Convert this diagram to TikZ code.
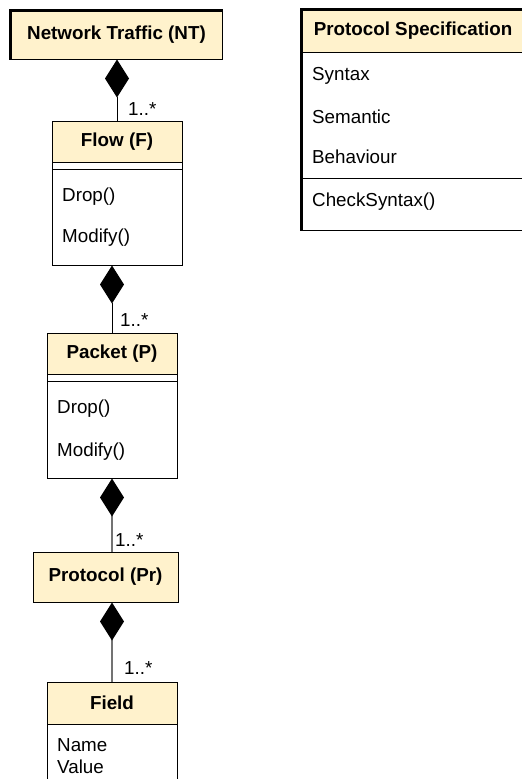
\documentclass[tikz,border=0pt]{standalone}
\usepackage{fontspec}
\setmainfont{Liberation Sans}
\usetikzlibrary{arrows.meta}
\definecolor{hdrfill}{HTML}{FFF2CC}
\tikzset{
  hdr/.style={draw=black, line width=1pt, fill=hdrfill, inner sep=0pt,
    font=\fontsize{18.8}{22}\selectfont\bfseries},
  bodybox/.style={draw=black, line width=1pt, fill=white, inner sep=0pt},
  txt/.style={anchor=west, inner sep=0pt, font=\fontsize{18.8}{22}\selectfont},
  lbl/.style={anchor=west, inner sep=0pt, font=\fontsize{18.8}{22}\selectfont},
  comp/.style={line width=1pt, -{Diamond[length=38pt,width=24pt,color=black,fill=black]}},
  compgray/.style={comp, draw=black!55, line width=1.5pt},
  heavy/.style={line width=2.6pt}
}
\begin{document}
\begin{tikzpicture}[x=1pt,y=-1pt]
\useasboundingbox (0,0) rectangle (522,779);
\clip (0,0) rectangle (522,779);
\fill[white] (0,0) rectangle (522,779);

% Network Traffic
\node[hdr, minimum width=211pt, minimum height=48pt] (nt) at (116.5,35) {Network Traffic (NT)};
\draw[heavy] (nt.south west) -- (nt.north west) -- (nt.north east);

% Protocol Specification
\node[bodybox, minimum width=222pt, minimum height=178pt] (psb) at (413,141) {};
\node[hdr, minimum width=222pt, minimum height=42pt] (psh) at (413,31) {Protocol Specification};
\draw[heavy] (psb.south west) -- (psh.north west) -- (psh.north east);
\coordinate (pssepL) at (302,178);
\draw[line width=1pt] (pssepL) -- (pssepL -| psb.east);
\node[txt] (ps1) at (312,76) {Syntax};
\node[txt] (ps2) at (312,117) {Semantic};
\node[txt] (ps3) at (312,157) {Behaviour};
\node[txt] (ps4) at (312,202) {CheckSyntax()};

% Flow
\node[bodybox, minimum width=130pt, minimum height=103pt] (flowb) at (117,213.5) {};
\node[hdr, minimum width=130pt, minimum height=41pt] (flowh) at (117,141.5) {Flow (F)};
\coordinate (flowsep) at (52,169);
\draw[line width=1pt] (flowsep) -- (flowsep -| flowb.east);
\node[txt] (f1) at (62,197) {Drop()};
\node[txt] (f2) at (62,238) {Modify()};

% Packet
\node[bodybox, minimum width=130pt, minimum height=104pt] (pkb) at (112,426) {};
\node[hdr, minimum width=130pt, minimum height=41pt] (pkh) at (112,353.5) {Packet (P)};
\coordinate (pksep) at (47,381);
\draw[line width=1pt] (pksep) -- (pksep -| pkb.east);
\node[txt] (p1) at (57,409) {Drop()};
\node[txt] (p2) at (57,452) {Modify()};

% Protocol
\node[hdr, minimum width=145pt, minimum height=50pt] (prot) at (105.5,577) {Protocol (Pr)};

% Field
\node[bodybox, minimum width=130pt, minimum height=80pt] (fieldb) at (112,764) {};
\node[hdr, minimum width=130pt, minimum height=42pt] (fieldh) at (112,703) {Field};
\node[txt] (fd1) at (57,745) {Name};
\node[txt] (fd2) at (57,767) {Value};

% Connectors
\draw[comp] (flowh.north) -- (nt.south -| flowh.north);
\draw[comp] (pkh.north) -- (flowb.south -| pkh.north);
\draw[compgray] (prot.north -| pkb.south) -- (pkb.south);
\draw[compgray] (fieldh.north) -- (prot.south -| fieldh.north);

% Multiplicities
\node[lbl] (m1) at (128,109) {1..*};
\node[lbl] (m2) at (120,320) {1..*};
\node[lbl] (m3) at (115,540) {1..*};
\node[lbl] (m4) at (124,668) {1..*};
\end{tikzpicture}
\end{document}
